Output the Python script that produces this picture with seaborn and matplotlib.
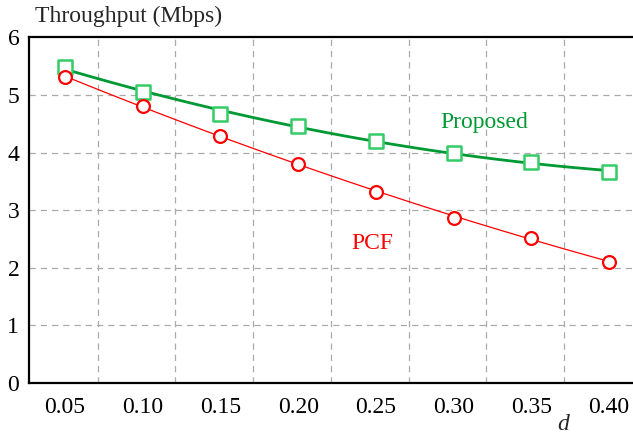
import numpy as np
import pandas as pd
import matplotlib
matplotlib.use("Agg")
import matplotlib.pyplot as plt
import seaborn as sns

# data
d = [0.05, 0.10, 0.15, 0.20, 0.25, 0.30, 0.35, 0.40]
proposed = [5.48, 5.06, 4.68, 4.46, 4.21, 4.00, 3.84, 3.66]
pcf = [5.31, 4.81, 4.29, 3.81, 3.32, 2.87, 2.52, 2.11]
tick_labels = ["0.05", "0.10", "0.15", "0.20", "0.25", "0.30", "0.35", "0.40"]

df = pd.DataFrame({"d": d, "Proposed": proposed, "PCF": pcf})

sns.set_style("white")
plt.rcParams["font.family"] = ["Liberation Serif", "DejaVu Serif"]

fig = plt.figure(figsize=(6.33, 4.34), dpi=100)
ax = fig.add_axes([0.0458, 0.1175, 0.9542, 0.7961])

# dashed grid: horizontal at integers, vertical between categories
for y in range(1, 6):
    ax.axhline(y, color="#aaaaaa", lw=0.9, ls=(0, (5, 4)), zorder=0)
for x in d:
    ax.axvline(x + 0.021, color="#aaaaaa", lw=0.9, ls=(0, (5, 4)), zorder=0)

# fitted curves
sns.regplot(data=df, x="d", y="Proposed", order=2, ci=None, scatter=False,
            color="#009933", line_kws={"lw": 2.0}, ax=ax)
sns.regplot(data=df, x="d", y="PCF", order=2, ci=None, scatter=False,
            color="#ff0000", line_kws={"lw": 0.9}, ax=ax)

# markers
sns.scatterplot(data=df, x="d", y="Proposed", marker="s", s=110,
                facecolor="white", edgecolor="#33cc66", linewidth=1.8, ax=ax, zorder=5)
sns.scatterplot(data=df, x="d", y="PCF", marker="o", s=85,
                facecolor="white", edgecolor="#ff0000", linewidth=1.6, ax=ax, zorder=5)

ax.set_xlim(0.0268, 0.4154)
ax.set_ylim(0, 6)
ax.set_xticks(d)
ax.set_xticklabels(tick_labels)
ax.set_yticks(range(0, 7))
ax.tick_params(axis="both", length=0, labelsize=17, colors="black")
ax.tick_params(axis="x", pad=10)
ax.tick_params(axis="y", pad=7)
ax.set_xlabel("")
ax.set_ylabel("")

for side in ["left", "bottom", "top"]:
    ax.spines[side].set_visible(True)
    ax.spines[side].set_color("black")
    ax.spines[side].set_linewidth(1.6)
ax.spines["right"].set_visible(False)

ax.text(0.320, 4.52, "Proposed", color="#009933", fontsize=17, ha="center", va="center")
ax.text(0.2475, 2.43, "PCF", color="#ff0000", fontsize=17, ha="center", va="center")

fig.text(0.056, 0.962, "Throughput (Mbps)", fontsize=17, ha="left", va="center")
fig.text(0.889, 0.021, "d", fontsize=17, style="italic", ha="center", va="center")

fig.savefig("out.png", dpi=100)
